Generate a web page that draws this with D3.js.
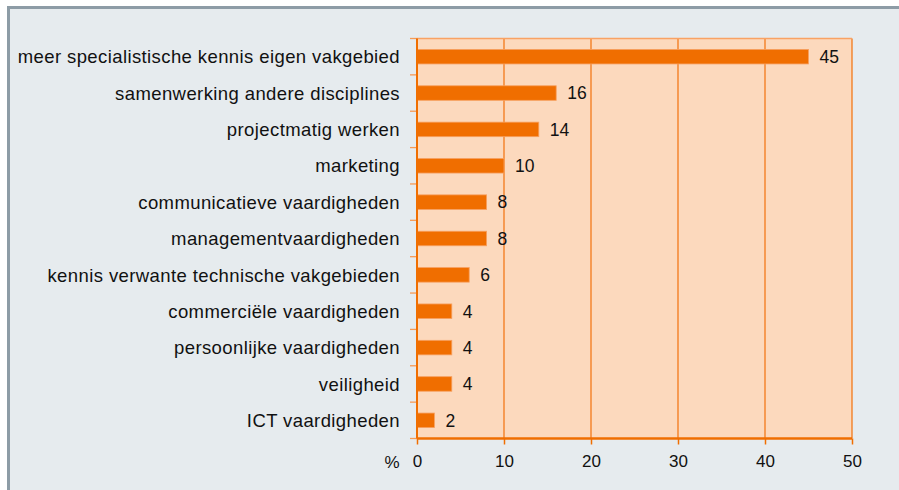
<!DOCTYPE html>
<html>
<head>
<meta charset="utf-8">
<script src="https://cdn.jsdelivr.net/npm/d3@7"></script>
<style>
  body { margin: 0; background: #ffffff; }
  text { font-family: "Liberation Sans", Arial, Helvetica, sans-serif; fill: #111; }
</style>
</head>
<body>
<div id="chart"></div>
<script>
var svgWidth = 899;
var svgHeight = 490;

// categories and values (percent), top to bottom
var categories = [
  "meer specialistische kennis eigen vakgebied",
  "samenwerking andere disciplines",
  "projectmatig werken",
  "marketing",
  "communicatieve vaardigheden",
  "managementvaardigheden",
  "kennis verwante technische vakgebieden",
  "commerciële vaardigheden",
  "persoonlijke vaardigheden",
  "veiligheid",
  "ICT vaardigheden"
];
var values = [45, 16, 14, 10, 8, 8, 6, 4, 4, 4, 2];
var xTicks = [0, 10, 20, 30, 40, 50];

var margin = { top: 38.5, right: 47, bottom: 52, left: 417 };
var width = 852 - margin.left;
var height = 438.5 - margin.top;

var svg = d3.select("#chart")
  .append("svg")
  .attr("width", svgWidth)
  .attr("height", svgHeight);

// panel frame
svg.append("rect")
  .attr("x", 8.5)
  .attr("y", 7.5)
  .attr("width", svgWidth)
  .attr("height", svgHeight)
  .attr("fill", "#e6ebee")
  .attr("stroke", "#8d9ca6")
  .attr("stroke-width", 3);

var chartGroup = svg.append("g")
  .attr("transform", `translate(${margin.left}, ${margin.top})`);

var xScale = d3.scaleLinear()
  .domain([0, 50])
  .range([0, width]);

var yScale = d3.scaleBand()
  .domain(categories)
  .range([0, height])
  .paddingInner(0.6)
  .paddingOuter(0.3);

// plot background
chartGroup.append("rect")
  .attr("width", width)
  .attr("height", height)
  .attr("fill", "#fcd9bd");

// vertical gridlines
chartGroup.selectAll(".grid")
  .data(xTicks.slice(1))
  .enter()
  .append("line")
  .attr("x1", d => xScale(d))
  .attr("x2", d => xScale(d))
  .attr("y1", 0)
  .attr("y2", height)
  .attr("stroke", "#f3791a")
  .attr("stroke-width", 1.3);

// top border
chartGroup.append("line")
  .attr("x1", 0).attr("x2", width)
  .attr("y1", 0).attr("y2", 0)
  .attr("stroke", "#f9a264")
  .attr("stroke-width", 1.5);

// bars
chartGroup.selectAll(".bar")
  .data(values)
  .enter()
  .append("rect")
  .attr("x", 0)
  .attr("y", (d, i) => yScale(categories[i]))
  .attr("width", d => xScale(d))
  .attr("height", yScale.bandwidth())
  .attr("fill", "#f06e00")
  .attr("stroke", "#f7a060")
  .attr("stroke-width", 0.8);

// value labels
chartGroup.selectAll(".val")
  .data(values)
  .enter()
  .append("text")
  .attr("x", d => xScale(d) + 11)
  .attr("y", (d, i) => yScale(categories[i]) + yScale.bandwidth() / 2)
  .attr("dy", "0.36em")
  .attr("font-size", "17.5px")
  .text(d => d);

// left axis: band boundary ticks
var step = height / categories.length;
chartGroup.selectAll(".ytick")
  .data(d3.range(categories.length + 1))
  .enter()
  .append("line")
  .attr("x1", -7)
  .attr("x2", 0)
  .attr("y1", d => d * step)
  .attr("y2", d => d * step)
  .attr("stroke", "#f79a55")
  .attr("stroke-width", 1.3);

chartGroup.append("line")
  .attr("x1", 0).attr("x2", 0)
  .attr("y1", 0).attr("y2", height)
  .attr("stroke", "#f06e00")
  .attr("stroke-width", 2);

// category labels
chartGroup.selectAll(".cat")
  .data(categories)
  .enter()
  .append("text")
  .attr("x", -17)
  .attr("y", d => yScale(d) + yScale.bandwidth() / 2)
  .attr("dy", "0.36em")
  .attr("text-anchor", "end")
  .attr("font-size", "18.5px")
  .attr("letter-spacing", "0.4px")
  .text(d => d);

// bottom axis
var bottomAxis = d3.axisBottom(xScale)
  .tickValues(xTicks)
  .tickSize(6)
  .tickPadding(10);

var xAxis = chartGroup.append("g")
  .attr("transform", `translate(0, ${height})`)
  .call(bottomAxis);

xAxis.select(".domain")
  .attr("stroke", "#f06e00")
  .attr("stroke-width", 2.5)
  .attr("d", `M0,0H${width}`);
xAxis.selectAll(".tick line")
  .attr("stroke", "#f06e00")
  .attr("stroke-width", 1.5);
xAxis.selectAll(".tick text")
  .attr("font-size", "17px")
  .attr("font-family", "Liberation Sans, Arial, sans-serif")
  .attr("fill", "#111");

chartGroup.append("text")
  .attr("x", -25)
  .attr("y", height + 29)
  .attr("text-anchor", "middle")
  .attr("font-size", "17px")
  .text("%");
</script>
</body>
</html>
